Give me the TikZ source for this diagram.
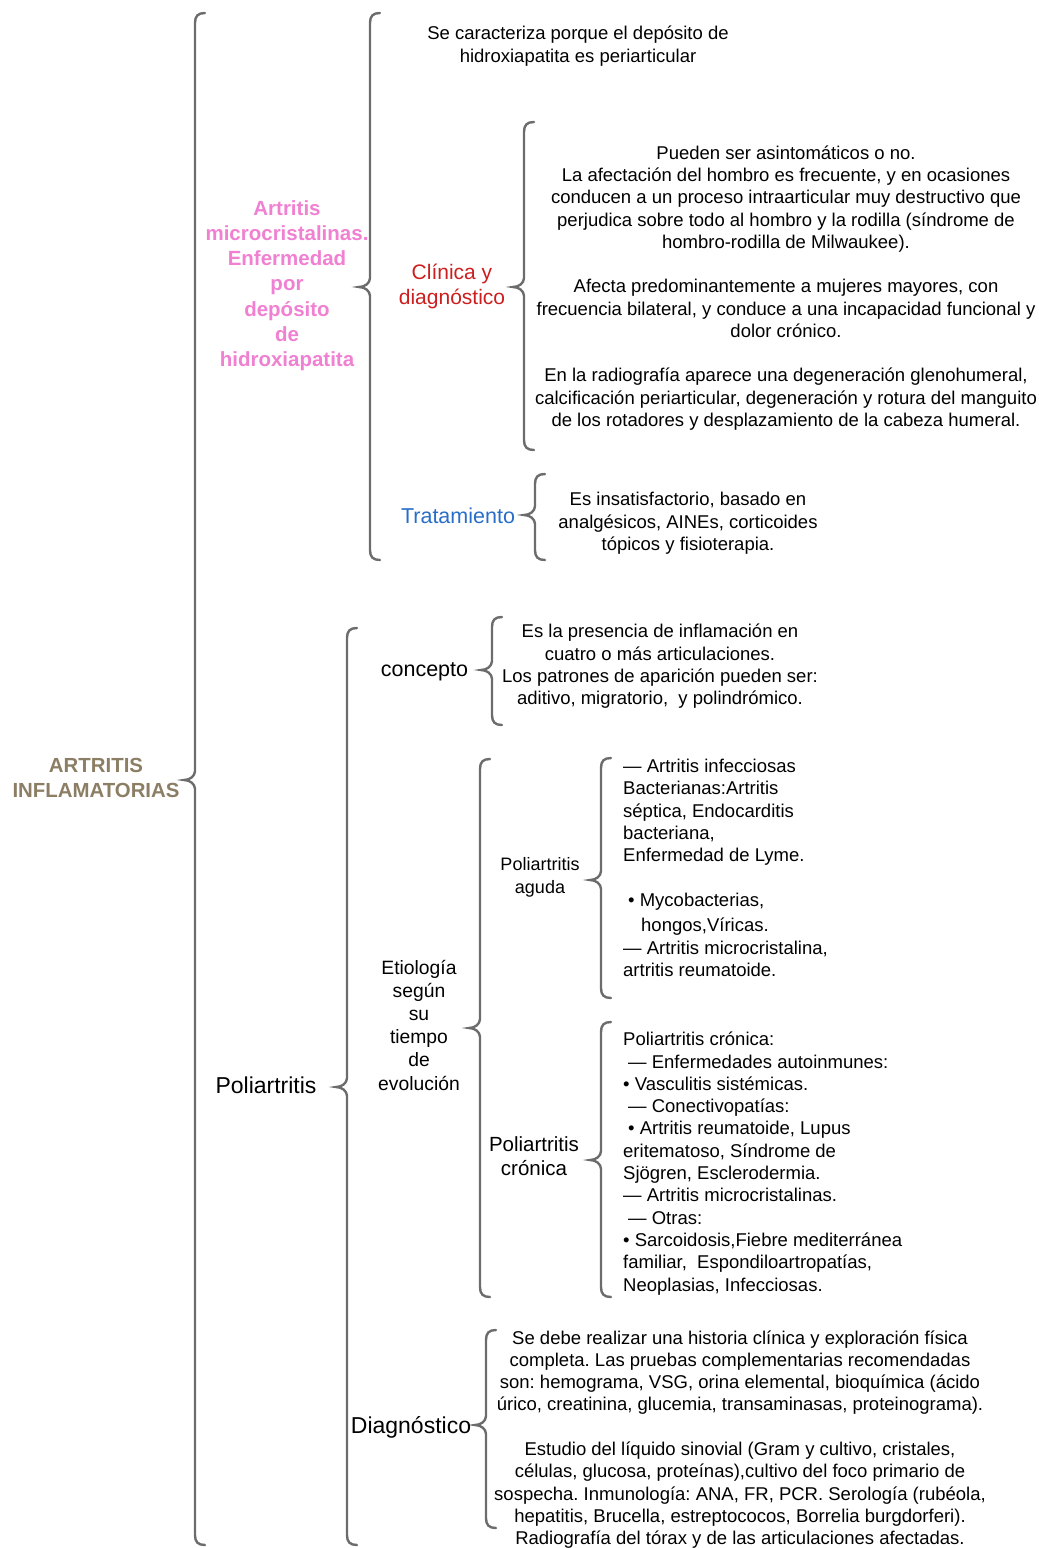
\documentclass[tikz,border=0pt]{standalone}
\usepackage{fontspec}
\setmainfont{Liberation Sans}
\usepackage{tikz}
\frenchspacing
\definecolor{bracegray}{RGB}{108,108,108}
\definecolor{artbrown}{RGB}{139,126,100}
\definecolor{microPink}{RGB}{240,128,210}
\definecolor{clinRed}{RGB}{204,30,30}
\definecolor{tratBlue}{RGB}{40,110,200}
\tikzset{
	brcline/.style={draw=bracegray, line width=2.4pt, line cap=round},
	txt/.style={inner sep=0pt, align=center, font=\fontsize{18.5}{22.3}\selectfont},
	txtl/.style={txt, align=left, anchor=west},
	lbl/.style={inner sep=0pt, align=center}
}
\newcommand{\brc}[4]{\draw[brcline] (#1+10,#2) .. controls (#1+3,#2) and (#1,#2+3) .. (#1,#2+10) -- (#1,#3-9) .. controls (#1,#3-4) and (#1-5,#3) .. (#1-11,#3) .. controls (#1-5,#3) and (#1,#3+4) .. (#1,#3+9) -- (#1,#4-10) .. controls (#1,#4-3) and (#1+3,#4) .. (#1+10,#4);}
\begin{document}
\begin{tikzpicture}[x=1pt, y=-1pt]
	\useasboundingbox (0,0) rectangle (1039,1548);
	\brc{195}{13}{780}{1545}
	\brc{370}{13}{287}{560}
	\brc{524}{122}{287}{450}
	\brc{535}{474}{515}{560}
	\brc{347}{628}{1087}{1545}
	\brc{492}{617}{670}{725}
	\brc{480}{759}{1028}{1297}
	\brc{601}{758}{880}{998}
	\brc{601}{1022}{1160}{1297}
	\brc{486}{1330}{1425}{1528}
	\node[lbl, artbrown, font=\bfseries\fontsize{20.4}{25}\selectfont] (artinf) at (96,778) {ARTRITIS\\INFLAMATORIAS};
	\node[lbl, microPink, font=\bfseries\fontsize{20.5}{25.2}\selectfont] (microcr) at (287,285.5) {Artritis\\microcristalinas.\\Enfermedad\\por\\depósito\\de\\hidroxiapatita};
	\node[txt] (microtxt) at (578,46) {Se caracteriza porque el depósito de\\hidroxiapatita es periarticular};
	\node[lbl, clinRed, font=\fontsize{21}{25}\selectfont] (clinica) at (452,286.5) {Clínica y\\diagnóstico};
	\node[txt] (clintxt) at (786,288) {Pueden ser asintomáticos o no.\\
		La afectación del hombro es frecuente, y en ocasiones\\
		conducen a un proceso intraarticular muy destructivo que\\
		perjudica sobre todo al hombro y la rodilla (síndrome de\\
		hombro-rodilla de Milwaukee).\\[22.2pt]
		Afecta predominantemente a mujeres mayores, con\\
		frecuencia bilateral, y conduce a una incapacidad funcional y\\
		dolor crónico.\\[22.2pt]
		En la radiografía aparece una degeneración glenohumeral,\\
		calcificación periarticular, degeneración y rotura del manguito\\
		de los rotadores y desplazamiento de la cabeza humeral.};
	\node[lbl, tratBlue, font=\fontsize{21.5}{25}\selectfont] (trat) at (458,516) {Tratamiento};
	\node[txt] (trattxt) at (688,523.5) {Es insatisfactorio, basado en\\analgésicos, AINEs, corticoides\\tópicos y fisioterapia.};
	\node[lbl, font=\fontsize{21.5}{25}\selectfont] (concepto) at (424.5,672) {concepto};
	\node[txt] (conctxt) at (660,666.5) {Es la presencia de inflamación en\\cuatro o más articulaciones.\\Los patrones de aparición pueden ser:\\aditivo, migratorio,~ y polindrómico.};
	\node[lbl, font=\fontsize{23}{27}\selectfont] (poli) at (266,1085) {Poliartritis};
	\node[lbl, font=\fontsize{19.3}{23.2}\selectfont] (etio) at (419,1025) {Etiología\\según\\su\\tiempo\\de\\evolución};
	\node[lbl, font=\fontsize{18}{23}\selectfont] (aguda) at (540,877.5) {Poliartritis\\aguda};
	\node[txtl] (agudatxt) at (623,868) {— Artritis infecciosas\\
		Bacterianas:Artritis\\
		séptica, Endocarditis\\
		bacteriana,\\
		Enfermedad de Lyme.\\[22.5pt]
		\hspace*{5pt}• Mycobacterias,\\[3pt]
		\hspace*{18pt}hongos,Víricas.\\
		— Artritis microcristalina,\\
		artritis reumatoide.};
	\node[lbl, font=\fontsize{20.5}{24}\selectfont] (cronica) at (534,1156) {Poliartritis\\crónica};
	\node[txtl] (cronicatxt) at (623,1163.5) {Poliartritis crónica:\\
		\hspace*{5pt}— Enfermedades autoinmunes:\\
		• Vasculitis sistémicas.\\
		\hspace*{5pt}— Conectivopatías:\\
		\hspace*{5pt}• Artritis reumatoide, Lupus\\
		eritematoso, Síndrome de\\
		Sjögren, Esclerodermia.\\
		— Artritis microcristalinas.\\
		\hspace*{5pt}— Otras:\\
		• Sarcoidosis,Fiebre mediterránea\\
		familiar,~ Espondiloartropatías,\\
		Neoplasias, Infecciosas.};
	\node[lbl, font=\fontsize{23}{27}\selectfont] (diag) at (411,1427) {Diagnóstico};
	\node[txt] (diagtxt) at (740,1439.5) {Se debe realizar una historia clínica y exploración física\\
		completa. Las pruebas complementarias recomendadas\\
		son: hemograma, VSG, orina elemental, bioquímica (ácido\\
		úrico, creatinina, glucemia, transaminasas, proteinograma).\\[22.3pt]
		Estudio del líquido sinovial (Gram y cultivo, cristales,\\
		células, glucosa, proteínas),cultivo del foco primario de\\
		sospecha. Inmunología: ANA, FR, PCR. Serología (rubéola,\\
		hepatitis, Brucella, estreptococos, Borrelia burgdorferi).\\
		Radiografía del tórax y de las articulaciones afectadas.};
\end{tikzpicture}
\end{document}
